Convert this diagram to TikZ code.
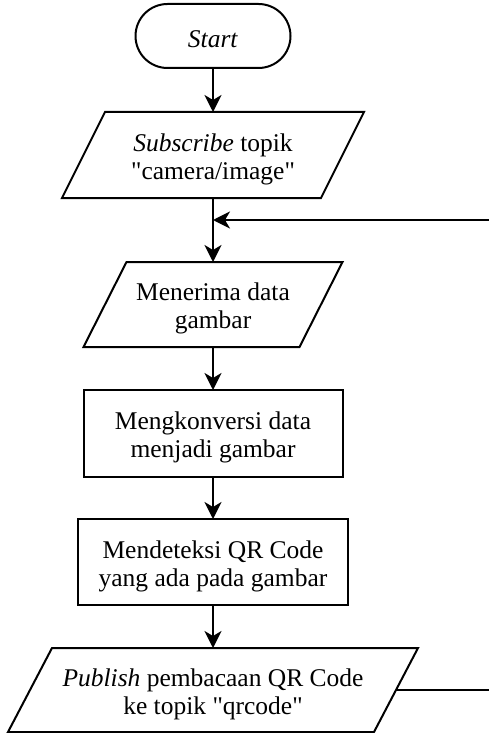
\documentclass[tikz,border=0pt]{standalone}
\usepackage{fontspec}
\setmainfont{Liberation Serif}[Ligatures=TeXOff]
\usetikzlibrary{arrows.meta}
\newcommand\pgram[6]{%
  \node[frame, minimum width=#4, minimum height=#5] (#1) at (#2,#3) {};
  \draw[shape line] ([xshift=#6/2]#1.north west) -- ([xshift=#6/2]#1.north east)
    -- ([xshift=-#6/2]#1.south east) -- ([xshift=-#6/2]#1.south west) -- cycle;
}
\tikzset{
  frame/.style={inner sep=0pt, outer sep=0pt},
  txt/.style={inner sep=0pt, outer sep=0pt, align=center, font=\fontsize{25.5}{28}\selectfont},
  shape line/.style={line width=2pt, line join=miter},
  procbox/.style={frame, draw, line width=2pt},
  termbox/.style={frame, draw, line width=2pt, rounded corners=32pt},
  conn/.style={line width=2pt, -{Stealth[length=17pt, width=17pt, inset=5pt]}}
}
\begin{document}
\begin{tikzpicture}[x=1pt, y=-1pt]
\useasboundingbox (0,0) rectangle (489,733);
\clip (0,0) rectangle (489,733);
\node[termbox, minimum width=155pt, minimum height=64pt] (start) at (213,36) {};
\pgram{p1}{213}{155}{259pt}{86pt}{43pt}
\pgram{p2}{213}{304.5}{216pt}{85pt}{43pt}
\node[procbox, minimum width=259pt, minimum height=87pt] (r1) at (213,433.5) {};
\node[procbox, minimum width=270pt, minimum height=86pt] (r2) at (213,562) {};
\pgram{p4}{213}{690}{366pt}{84pt}{44pt}
\node[txt] (startT) at ([yshift=-3pt]start.center) {\textit{Start}};
\node[txt] (p1T) at ([yshift=-4pt]p1.center) {\textit{Subscribe} topik\\"camera/image"};
\node[txt] (p2T) at ([yshift=-4pt]p2.center) {Menerima data\\gambar};
\node[txt] (r1T) at ([yshift=-4pt]r1.center) {Mengkonversi data\\menjadi gambar};
\node[txt] (r2T) at ([yshift=-4pt]r2.center) {Mendeteksi QR Code\\yang ada pada gambar};
\node[txt] (p4T) at ([yshift=-4pt]p4.center) {\textit{Publish} pembacaan QR Code\\ke topik "qrcode"};
\coordinate (loopB) at (500,690);
\coordinate (loopT) at (500,220);
\coordinate (join) at (213,220);
\draw[conn] (start.south) -- (p1.north);
\draw[conn] (p1.south) -- (p2.north);
\draw[conn] (p2.south) -- (r1.north);
\draw[conn] (r1.south) -- (r2.north);
\draw[conn] (r2.south) -- (p4.north);
\draw[conn] (p4.east) -- (loopB) -- (loopT) -- (join);
\end{tikzpicture}
\end{document}
